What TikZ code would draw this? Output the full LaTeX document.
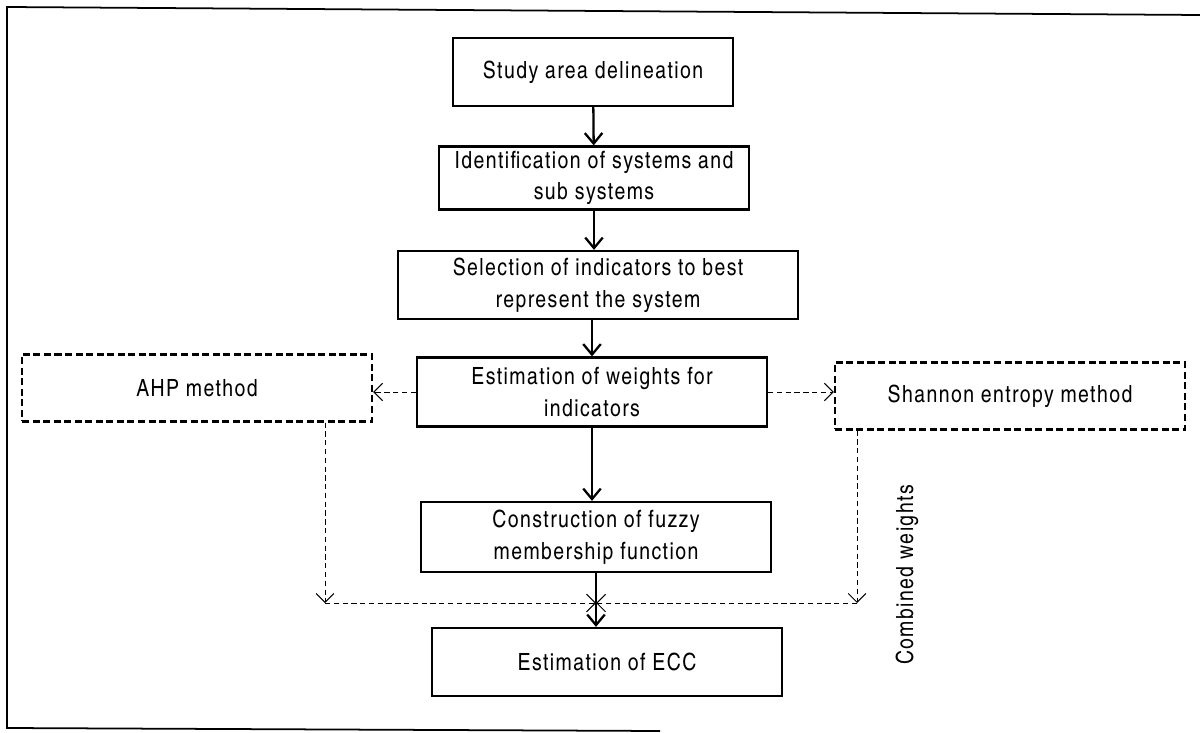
\documentclass[tikz,border=0pt]{standalone}
\usepackage{fontspec}
\setmainfont{TeX Gyre Heros Cn}[LetterSpace=6]
\usetikzlibrary{arrows.meta}

\tikzset{
  procbox/.style={draw, line width=1.3pt, align=center, inner sep=2pt,
    font=\fontsize{13.5}{18}\selectfont},
  methodbox/.style={draw, line width=1.3pt, dash pattern=on 4pt off 2pt,
    inner sep=2pt, font=\fontsize{13.5}{18}\selectfont},
  flowarrow/.style={line width=1.3pt, -{Straight Barb[length=6pt, width=10pt]}},
  weightarrow/.style={line width=0.5pt, densely dashed,
    -{Straight Barb[length=5pt, width=10pt, line width=0.6pt]}},
}

\begin{document}
\begin{tikzpicture}[x=0.02cm, y=-0.02cm]
    \useasboundingbox (0,0) rectangle (1200,733);

    % Frame
    \draw[line width=1pt] (1200,15) -- (7,7) -- (7,728) -- (660,731);

    % Steps
    \node[procbox, minimum width=5.6cm, minimum height=1.36cm] (studyarea) at (593,72) {Study area delineation};
    \node[procbox, minimum width=6.2cm, minimum height=1.26cm] (identify) at (594,178) {Identification of systems and\\sub systems};
    \node[procbox, minimum width=8cm, minimum height=1.36cm] (selection) at (598,285) {Selection of indicators to best\\represent the system};
    \node[procbox, minimum width=7cm, minimum height=1.38cm] (weights) at (592,392) {Estimation of weights for\\indicators};
    \node[procbox, minimum width=7cm, minimum height=1.4cm] (fuzzy) at (596,537) {Construction of fuzzy\\membership function};
    \node[procbox, minimum width=7cm, minimum height=1.36cm] (ecc) at (607,662) {Estimation of ECC};

    % Methods
    \node[methodbox, minimum width=7cm, minimum height=1.34cm] (ahp) at (197,388) {AHP method};
    \node[methodbox, minimum width=7cm, minimum height=1.34cm] (shannon) at (1010,396) {Shannon entropy method};
    \node[rotate=90, font=\fontsize{13.5}{18}\selectfont] (combined) at (907,575) {Combined weights};

    % Main flow
    \draw[flowarrow] (studyarea) -- (identify);
    \draw[flowarrow] (identify) -- (selection.north -| identify);
    \draw[flowarrow] (selection.south -| weights) -- (weights);
    \draw[flowarrow] (weights) -- (fuzzy.north -| weights);
    \draw[flowarrow] (fuzzy) -- (ecc.north -| fuzzy);

    % Weights
    \coordinate (ahpturn) at (325,603);
    \coordinate (shannonturn) at (857,603);
    \draw[weightarrow] (weights.west) -- (weights.west -| ahp.east);
    \draw[weightarrow] (weights.east) -- (weights.east -| shannon.west);
    \draw[weightarrow] (ahp.south -| ahpturn) -- (ahpturn);
    \draw[weightarrow] (shannon.south -| shannonturn) -- (shannonturn);
    \draw[weightarrow] (ahpturn) -- (ahpturn -| fuzzy.south);
    \draw[weightarrow] (shannonturn) -- (shannonturn -| fuzzy.south);
\end{tikzpicture}
\end{document}
